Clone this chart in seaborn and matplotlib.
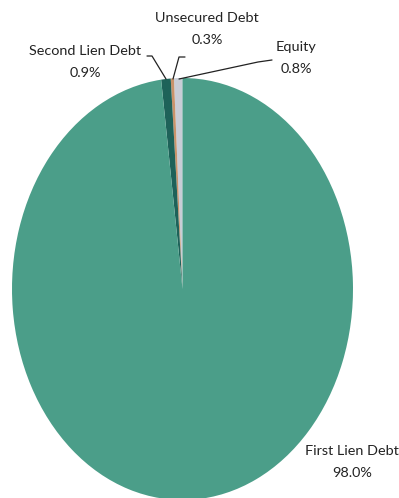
import matplotlib
matplotlib.use("Agg")
import matplotlib.pyplot as plt
import seaborn as sns

# === Données ===
categories = ["Equity", "Unsecured Debt", "Second Lien Debt", "First Lien Debt"]
valeurs = [0.8, 0.3, 0.9, 98.0]
couleurs = ["#c9cdd6", "#c9936a", "#1e6259", "#4b9e89"]

sns.set_style("white")
plt.rcParams["font.family"] = ["Lato", "DejaVu Sans"]

fig = plt.figure(figsize=(3.99, 4.98), dpi=100)
# axes étiré pour obtenir une ellipse comme dans l'original
ax = fig.add_axes([12 / 399, -2 / 498, 341 / 399, 422 / 498])
ax.pie(valeurs, colors=couleurs, startangle=90, counterclock=True,
       wedgeprops={"linewidth": 0})
ax.set_aspect("auto")
ax.set_xlim(-1, 1)
ax.set_ylim(-1, 1)
ax.axis("off")

W, H = 399, 498
def fx(x):
    return x / W
def fy(y):
    return 1 - y / H

style = dict(fontsize=10.4, fontweight="normal", color="#222222",
             ha="center", va="center", linespacing=1.95)

# étiquettes
fig.text(fx(207), fy(29), "Unsecured Debt\n0.3%", **style)
fig.text(fx(85), fy(62), "Second Lien Debt\n0.9%", **style)
fig.text(fx(296), fy(58), "Equity\n0.8%", **style)
fig.text(fx(352), fy(462), "First Lien Debt\n98.0%", **style)

# lignes de rappel
lignes = [
    [(147, 56), (152, 56), (166, 79)],
    [(185, 57), (179, 57), (173, 79)],
    [(272, 60), (258, 62), (179, 79)],
]
for pts in lignes:
    xs = [fx(p[0]) for p in pts]
    ys = [fy(p[1]) for p in pts]
    fig.add_artist(plt.Line2D(xs, ys, color="#222222", linewidth=0.9,
                              transform=fig.transFigure))

fig.savefig("out.png", dpi=100)
